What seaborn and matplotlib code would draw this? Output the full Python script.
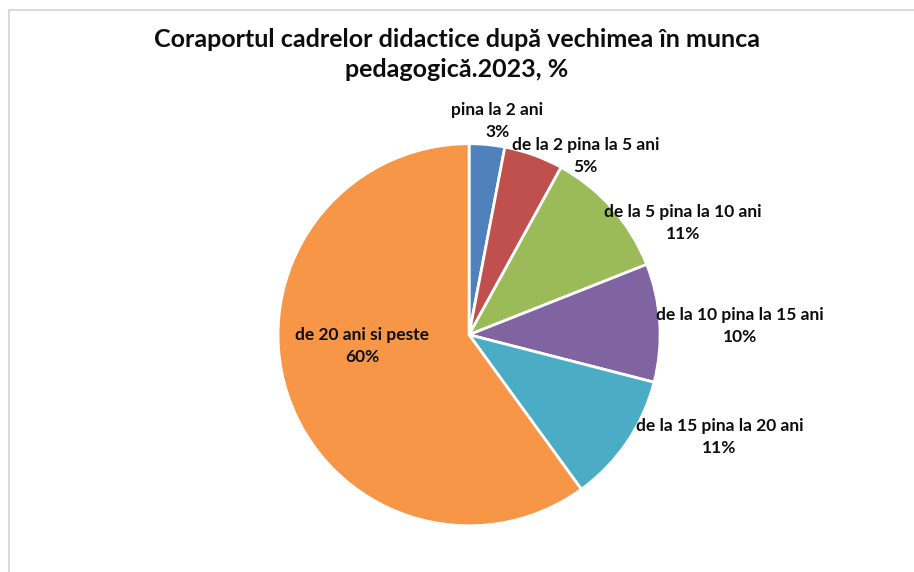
import numpy as np
import matplotlib
matplotlib.use("Agg")
import matplotlib.pyplot as plt
import seaborn as sns
from matplotlib.lines import Line2D

# Data
categories = ["pina la 2 ani", "de la 2 pina la 5 ani", "de la 5 pina la 10 ani",
              "de la 10 pina la 15 ani", "de la 15 pina la 20 ani", "de 20 ani si peste"]
shares = [3, 5, 11, 10, 11, 60]
colors = ["#4F81BD", "#C0504D", "#9BBB59", "#8064A2", "#4BACC6", "#F79646"]
title = "Coraportul cadrelor didactice după vechimea în munca\npedagogică.2023, %"

# Label placement (radius units, relative to pie centre)
label_pos = [(0.149, 1.118), (0.61, 0.935), (1.118, 0.584),
             (1.416, 0.045), (1.311, -0.537), (-0.558, -0.06)]

sns.set_style("white")
plt.rcParams["font.family"] = ["Lato", "DejaVu Sans"]

fig = plt.figure(figsize=(9.14, 5.72), dpi=100)
ax = fig.add_axes([0.3042, 0.0808, 0.418, 0.668])

ax.pie(shares, colors=colors, startangle=90, counterclock=False,
       wedgeprops=dict(edgecolor="white", linewidth=2))
ax.set_xlim(-1, 1)
ax.set_ylim(-1, 1)
ax.set_aspect("equal")
ax.axis("off")

for cat, val, (x, y) in zip(categories, shares, label_pos):
    ax.text(x, y, f"{cat}\n{val}%", ha="center", va="center",
            fontsize=12.5, fontweight="bold", color="#0d0d0d", linespacing=1.45)

fig.text(0.5, 0.905, title, ha="center", va="center", fontsize=18,
         fontweight="bold", color="#0d0d0d", linespacing=1.4)

# Chart area frame (top and left edges visible)
fig.add_artist(Line2D([9 / 914, 1], [1 - 9.5 / 572, 1 - 9.5 / 572],
                      transform=fig.transFigure, color="#d9d9d9", linewidth=1.5))
fig.add_artist(Line2D([9 / 914, 9 / 914], [0, 1 - 9.5 / 572],
                      transform=fig.transFigure, color="#d9d9d9", linewidth=1.5))

fig.savefig("out.png", dpi=100, facecolor="white")
